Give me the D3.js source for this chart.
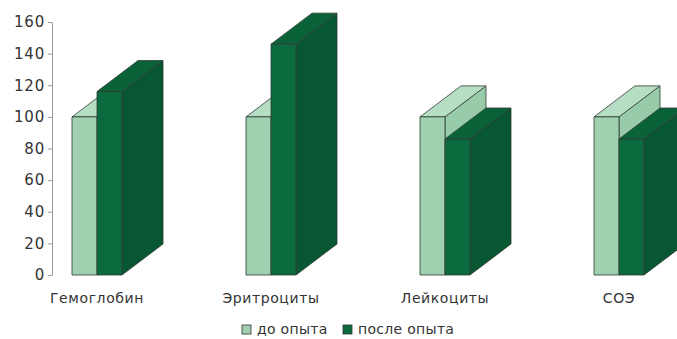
<!DOCTYPE html>
<html>
<head>
<meta charset="utf-8">
<script src="https://cdn.jsdelivr.net/npm/d3@7"></script>
<style>
  body { margin: 0; background: #fff; }
  text { font-family: "DejaVu Sans", sans-serif; fill: #333; }
  .axis path, .axis line { stroke: #999; }
</style>
</head>
<body>
<div id="chart"></div>
<script>
// chart data
const categories = ['Гемоглобин', 'Эритроциты', 'Лейкоциты', 'СОЭ'];
const seriesNames = ['до опыта', 'после опыта'];
const before = [100, 100, 100, 100];
const after = [116, 146, 86, 86];
const yTicks = [0, 20, 40, 60, 80, 100, 120, 140, 160];

const width = 677, height = 339;
const depth = { x: 41, y: -31 }; // 3d offset of the back face

// colours per series: front, top, side
const colors = [
  { front: '#9fd1b0', top: '#b6dec5', side: '#98cbaa' },
  { front: '#0c6b3e', top: '#0a6239', side: '#075732' }
];

const svg = d3.select('#chart').append('svg')
  .attr('width', width)
  .attr('height', height);

const yScale = d3.scaleLinear().domain([0, 160]).range([275, 22]);
const xScale = d3.scaleBand().domain(categories).range([10, 706]);
const xInner = d3.scaleBand().domain(seriesNames).range([0, 50]);

// y axis
svg.append('g')
  .attr('class', 'axis')
  .attr('transform', 'translate(52,0)')
  .call(d3.axisLeft(yScale).tickValues(yTicks).tickSize(4).tickSizeOuter(0).tickPadding(3))
  .call(g => g.selectAll('text')
    .style('font-family', '"DejaVu Sans", sans-serif')
    .style('font-size', '15px')
    .style('letter-spacing', '0.8px')
    .attr('fill', '#333'));

// bars, drawn left to right so the right neighbour hides the side face
const bars = [];
categories.forEach((c, i) => {
  [before, after].forEach((vals, s) => bars.push({ cat: c, s: s, v: vals[i] }));
});

const g = svg.append('g');
bars.forEach(d => {
  const x0 = xScale(d.cat) + xScale.bandwidth() / 2 - 25 + xInner(seriesNames[d.s]);
  const x1 = x0 + xInner.bandwidth();
  const y0 = yScale(0), y1 = yScale(d.v);
  const col = colors[d.s];
  const bg = g.append('g').attr('stroke', '#2f3a33').attr('stroke-width', 0.8).attr('stroke-linejoin', 'round');
  // side face
  bg.append('path')
    .attr('d', `M${x1},${y1}L${x1 + depth.x},${y1 + depth.y}L${x1 + depth.x},${y0 + depth.y}L${x1},${y0}Z`)
    .attr('fill', col.side);
  // top face
  bg.append('path')
    .attr('d', `M${x0},${y1}L${x0 + depth.x},${y1 + depth.y}L${x1 + depth.x},${y1 + depth.y}L${x1},${y1}Z`)
    .attr('fill', col.top);
  // front face
  bg.append('rect')
    .attr('x', x0).attr('y', y1)
    .attr('width', x1 - x0).attr('height', y0 - y1)
    .attr('fill', col.front);
});

// category labels
svg.append('g').selectAll('text')
  .data(categories)
  .enter().append('text')
  .attr('x', d => xScale(d) + xScale.bandwidth() / 2)
  .attr('y', 303)
  .attr('text-anchor', 'middle')
  .style('font-size', '14px')
  .style('letter-spacing', '0.6px')
  .text(d => d);

// legend
const legend = svg.append('g').attr('transform', 'translate(242,334)');
const legendX = [0, 101];
seriesNames.forEach((name, i) => {
  const lg = legend.append('g').attr('transform', `translate(${legendX[i]},0)`);
  lg.append('rect')
    .attr('x', 0).attr('y', -9)
    .attr('width', 9).attr('height', 9)
    .attr('fill', colors[i].front)
    .attr('stroke', '#333').attr('stroke-width', 0.8);
  lg.append('text')
    .attr('x', 15).attr('y', 0)
    .style('font-size', '14px')
    .style('letter-spacing', '0.3px')
    .text(name);
});
</script>
</body>
</html>
